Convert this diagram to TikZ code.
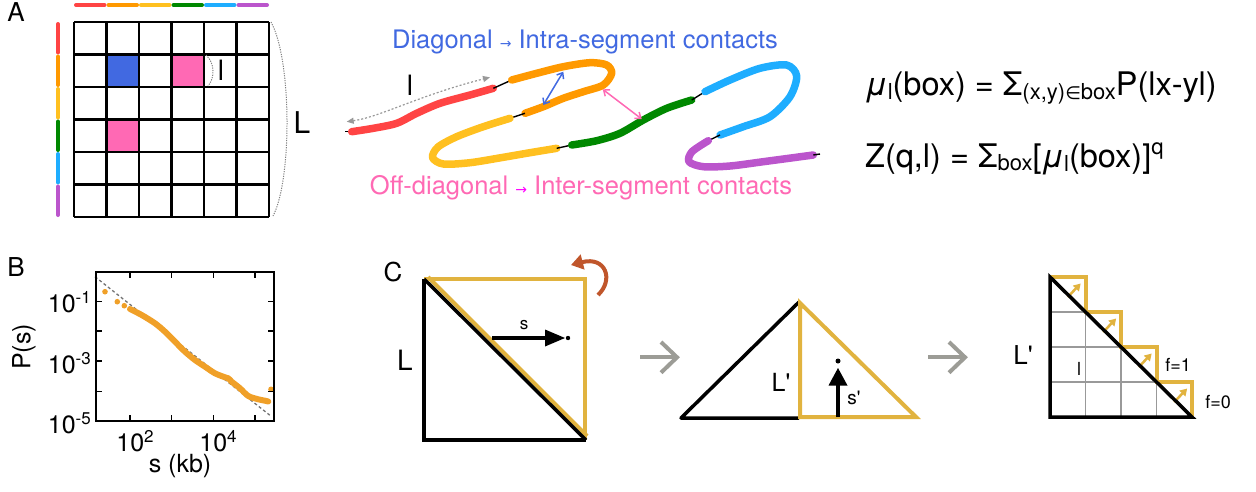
\documentclass[tikz,border=0pt]{standalone}
\usepackage{fontspec}
\setmainfont{TeX Gyre Heros}
\newfontfamily\symf{DejaVu Sans}
\usetikzlibrary{arrows.meta}
\definecolor{cred}{HTML}{FF4444}
\definecolor{corange}{HTML}{FF9900}
\definecolor{cyellow}{HTML}{FFC020}
\definecolor{cgreen}{HTML}{008800}
\definecolor{csky}{HTML}{1EADFF}
\definecolor{cpurple}{HTML}{BB55CC}
\definecolor{cblue}{HTML}{4169E1}
\definecolor{cpink}{HTML}{FF69B4}
\definecolor{cmag}{HTML}{FF00FF}
\definecolor{cgold}{HTML}{E1B33F}
\definecolor{cdata}{HTML}{F0A028}
\definecolor{crust}{HTML}{C0562B}
\definecolor{carrow}{HTML}{9C9C96}
\newcommand\myfs[1]{\fontsize{#1}{#1}\selectfont}
\newcommand\sq{\textquotesingle}
\tikzset{
  lbl/.style={inner sep=0pt, font=\myfs{26}},
  seg/.style={line width=7.5pt, line cap=round, line join=round},
  link/.style={line width=1.4pt, black},
  bar/.style={line width=4pt, line cap=round},
  gridl/.style={line width=2.2pt, black},
  goldl/.style={line width=4pt, cgold},
  blackl/.style={line width=3.5pt, black},
  greyarr/.style={line width=4pt, carrow},
}
\begin{document}
\begin{tikzpicture}[x=1pt,y=-1pt]
\useasboundingbox (0,0) rectangle (1256,491);
% ---------- Panel A ----------
\node[lbl] (labA) at (16,12) {A};
% colour bars
\foreach \c [count=\i from 0] in {cred,corange,cyellow,cgreen,csky,cpurple}{
  \draw[bar,\c] ({74+32.5*\i+2},5) -- ({74+32.5*(\i+1)-2},5);
  \draw[bar,\c] (58,{22+32.5*\i+2}) -- (58,{22+32.5*(\i+1)-2});
}
% coloured cells
\fill[cblue] (106.5,54.5) rectangle (139,87);
\fill[cpink] (171.5,54.5) rectangle (204,87);
\fill[cpink] (106.5,119.5) rectangle (139,152);
\foreach \i in {0,...,6}{
  \draw[gridl] ({74+32.5*\i},22) -- ({74+32.5*\i},217);
  \draw[gridl] (74,{22+32.5*\i}) -- (269,{22+32.5*\i});
}
\draw[gray, line width=1pt, dash pattern=on 1.2pt off 1.2pt] (206,55) .. controls (215,63) and (215,78) .. (208,86);
\node[lbl, font=\myfs{28}] (lA) at (221,70) {l};
\draw[gray, line width=1pt, dash pattern=on 1.2pt off 1.2pt] (271,22) .. controls (292,60) and (292,180) .. (273,216);
\node[lbl, font=\myfs{30}] (LA) at (302,123) {L};
% polymer
\draw[link] (345,131.7) -- (352,131.7);
\draw[seg,cred] plot[smooth] coordinates {(351.7,131.7) (373.3,128.3) (396.7,123.3) (416.7,113.3) (440,103.3) (470,95) (493.3,88.3)};
\draw[link] (493.3,88.3) -- (511.7,80);
\draw[seg,corange] plot[smooth] coordinates {(511.7,80) (536.7,73.3) (563.3,66.7) (590,62.7) (606.7,65) (611.7,73.3) (603.3,85) (583.3,91.7) (563.3,98.3) (543.3,106.7) (525,113.3)};
\draw[link] (525,113.3) -- (510,118.3);
\draw[seg,cyellow] plot[smooth] coordinates {(510,118.3) (483.3,126.7) (456.7,136.7) (438,147) (432.5,157.5) (443.3,164) (470,162.7) (503.3,157.3) (530,152.7) (556.7,148.3)};
\draw[link] (556.7,148.3) -- (571.7,145);
\draw[seg,cgreen] plot[smooth] coordinates {(571.7,145) (596.7,140.7) (620,133.3) (643.3,120) (666.7,108.3) (691.7,100)};
\draw[link] (691.7,100) -- (705,91.7);
\draw[seg,csky] plot[smooth] coordinates {(705,91.7) (730,80) (760,68.3) (786.7,65) (796.7,76) (790,96.7) (770,116.7) (743.3,126.7) (720,135)};
\draw[link] (720,135) -- (708.3,140.7);
\draw[seg,cpurple] plot[smooth] coordinates {(708.3,140.7) (692,151.7) (689,161.7) (703.3,166.7) (730,166) (763.3,161.7) (813.3,155)};
\draw[link] (813.3,155) -- (820,154);
% contact arrows
\coordinate (b1) at (543.3,105); \coordinate (b2) at (563.3,71.7);
\draw[cblue, line width=1.5pt, {Straight Barb[length=5pt,width=8pt]}-{Straight Barb[length=5pt,width=8pt]}] (b1) -- (b2);
\coordinate (p1) at (602.7,89.3); \coordinate (p2) at (641.7,119);
\draw[cpink, line width=1.5pt, {Straight Barb[length=5pt,width=8pt]}-{Straight Barb[length=5pt,width=8pt]}] (p1) -- (p2);
\coordinate (g1) at (346.7,121.7); \coordinate (g2) at (490,77.3);
\draw[gray!80, line width=1.2pt, dash pattern=on 2pt off 2pt, {Triangle[length=7pt,width=6pt]}-{Triangle[length=7pt,width=6pt]}] (g1) .. controls (380,117) and (420,95) .. (g2);
\node[lbl, font=\myfs{28}] (lpoly) at (410,85) {l};
\node[lbl, font=\myfs{25.5}, text=cblue] (diag) at (585,42) {Diagonal {\symf\myfs{14}→} Intra-segment contacts};
\node[lbl, font=\myfs{25.5}, text=cpink] (offd) at (581,188) {Off-diagonal {\symf\myfs{14}\color{cmag}→} Inter-segment contacts};
% formulas
\node[inner sep=0pt, anchor=base west, font=\myfs{32.5}] (f1) at (865,95) {{\itshape μ}\raisebox{-4pt}{\myfs{22}l}(box) = Σ\raisebox{-4pt}{\myfs{22}(x,y){\symf\myfs{18}∈}box}P(lx-yl)};
\node[inner sep=0pt, anchor=base west, font=\myfs{32.5}] (f2) at (865,167) {Z(q,l) = Σ\raisebox{-3pt}{\myfs{22}box}[{\itshape μ}\raisebox{-4pt}{\myfs{22}l}(box)]\raisebox{13pt}{\myfs{22}q}};
% ---------- Panel B ----------
\node[lbl] (labB) at (16,267) {B};
\draw[gray!90!black, line width=1.3pt, dash pattern=on 3pt off 2.5pt] (95,276.7) -- (271.7,416.7);
\draw[cdata, line width=6pt, line cap=round, line join=round] plot[smooth] coordinates {(130,309) (141.7,315) (155,323.3) (165,331.7) (175,341.7) (185,351.7) (195,360) (205,366.7) (215,373.3) (225,377.3) (228.3,378.3) (231.7,381.7) (240,388.3) (248.3,396) (258.3,399.3) (265,400.7) (268.3,401.5)};
\foreach \p in {(105,291.7),(117.3,301.7),(124.3,305.7),(271,389.3)} \fill[cdata] \p circle (2.8);
\draw[line width=1.5pt] (96,272) rectangle (274,421);
\foreach \yy in {301.7,331,361,391.7}{
  \draw[line width=1.2pt] (96,\yy) -- (102,\yy);
  \draw[line width=1.2pt] (274,\yy) -- (268,\yy);
}
\foreach \xx in {130,171.7,213.3,255}{
  \draw[line width=1.2pt] (\xx,421) -- (\xx,415);
  \draw[line width=1.2pt] (\xx,272) -- (\xx,278);
}
\node[inner sep=0pt, anchor=east, font=\myfs{25}] (ty1) at (91,302) {10\raisebox{9pt}{\myfs{17}-1}};
\node[inner sep=0pt, anchor=east, font=\myfs{25}] (ty3) at (91,363) {10\raisebox{9pt}{\myfs{17}-3}};
\node[inner sep=0pt, anchor=east, font=\myfs{25}] (ty5) at (91,423) {10\raisebox{9pt}{\myfs{17}-5}};
\node[inner sep=0pt, font=\myfs{25}] (tx2) at (135,441) {10\raisebox{9pt}{\myfs{17}2}};
\node[inner sep=0pt, font=\myfs{25}] (tx4) at (218,441) {10\raisebox{9pt}{\myfs{17}4}};
\node[inner sep=0pt, font=\myfs{25}] (xlab) at (180,466) {s (kb)};
\node[inner sep=0pt, font=\myfs{25}, rotate=90] (ylab) at (24,347) {P(s)};
% ---------- Panel C ----------
\node[lbl] (labC) at (393,272) {C};
% square
\draw[goldl, line join=miter] (424,279) -- (585,279) -- (585,440);
\draw[goldl] (428,277) -- (587,436);
\draw[blackl, line join=miter] (424,279) -- (424,440) -- (586,440);
\draw[blackl] (424,279) -- (586,440);
\draw[line width=4pt] (492,338) -- (546,338);
\fill (545,329.5) -- (565,338) -- (545,346.5) -- cycle;
\fill (568,338) circle (2.2);
\node[inner sep=0pt, font=\myfs{17}] (sC) at (524,325) {s};
\node[lbl, font=\myfs{28}] (LC) at (405,360) {L};
\draw[crust, line width=4pt, -{Triangle[length=12pt,width=15pt]}] (598,295) .. controls (614,280) and (606,256) .. (571,265);
% grey arrows
\draw[greyarr] (640,357) -- (676,357);
\draw[greyarr, line join=miter] (661,342) -- (677,357.3) -- (661,372.7);
\draw[greyarr] (928,357) -- (964,357);
\draw[greyarr, line join=miter] (949,342) -- (965,357.3) -- (949,372.7);
% triangle
\draw[blackl, line join=round] (799,418) -- (681,418) -- (799,302);
\draw[goldl, line join=miter] (800,303) -- (800,417) -- (916,417) -- cycle;
\draw[line width=3.5pt] (838,417) -- (838,383);
\fill (828.5,385.5) -- (838,368) -- (847.5,385.5) -- cycle;
\fill (838,361) circle (2.5);
\node[lbl, font=\myfs{25}] (LT) at (781,382) {L\sq};
\node[inner sep=0pt, font=\myfs{19}] (sT) at (854,398) {s\sq};
% staircase
\foreach \k/\xk/\yk in {1/1085.5/312,2/1121/347,3/1156.5/382}{
  \draw[gray!80, line width=1.5pt] (\xk,\yk) -- (\xk,417);
  \draw[gray!80, line width=1.5pt] (1050,\yk) -- (\xk,\yk);
}
\draw[goldl, line join=miter] (1050,277) -- (1085.5,277) -- (1085.5,312) -- (1121,312) -- (1121,347) -- (1156.5,347) -- (1156.5,382) -- (1192,382) -- (1192,417);
\foreach \cx/\cy in {1067.7/294.5,1103.2/329.5,1138.7/364.5,1174.2/399.5}{
  \draw[cgold, line width=2.5pt, -{Triangle[length=7pt,width=8pt]}] (\cx,\cy+2.5) -- (\cx+13,\cy-11);
}
\draw[blackl, line join=miter] (1192,417) -- (1050,417) -- (1050,277) -- cycle;
\node[lbl, font=\myfs{26}] (LS) at (1023,355) {L\sq};
\node[inner sep=0pt, font=\myfs{18}] (lS) at (1079,369) {l};
\node[inner sep=0pt, font=\myfs{18}] (f1l) at (1178,365) {f=1};
\node[inner sep=0pt, font=\myfs{18}] (f0l) at (1218,402) {f=0};
\end{tikzpicture}
\end{document}
